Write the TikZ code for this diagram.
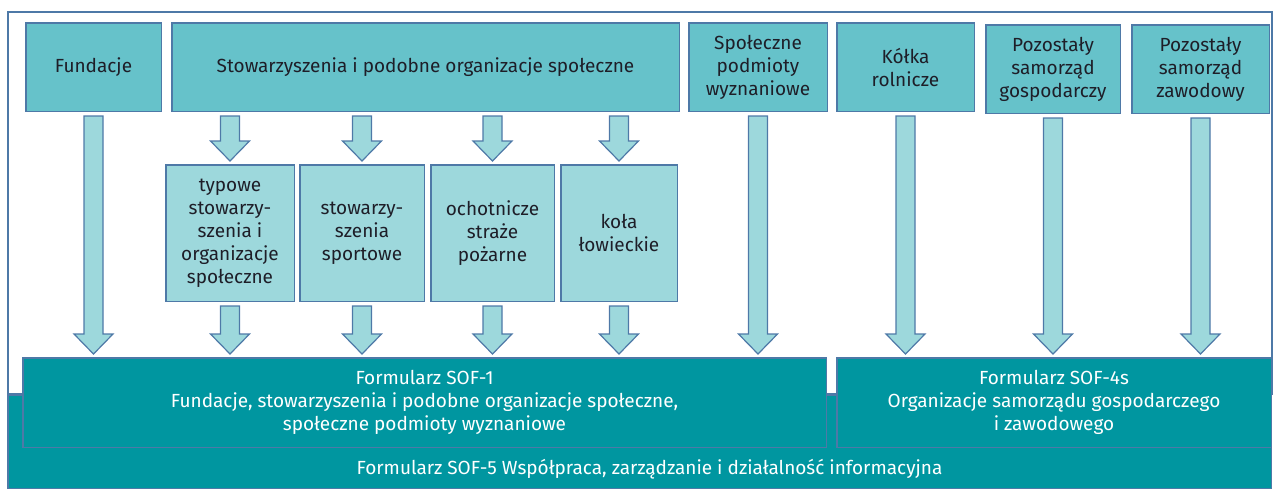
\documentclass[tikz,border=0pt]{standalone}
\usepackage{fontspec}
\setmainfont{Fira Sans}
\usetikzlibrary{calc, positioning}
\definecolor{boxtop}{RGB}{102,194,202}
\definecolor{boxsub}{RGB}{157,216,220}
\definecolor{rim}{RGB}{78,121,167}
\definecolor{softeal}{RGB}{0,150,160}
\definecolor{ink}{RGB}{30,30,40}

% hollow block arrow: #1 top end, #2 node it points at (only its y is used)
\newcommand{\blockarrow}[2]{%
  \path[barrow] let \p1=#1, \p2=#2 in
    ({\x1-9.5pt},{\y1-4pt}) -- ({\x1-9.5pt},{\y2+23pt}) -- ({\x1-19.5pt},{\y2+23pt})
    -- ({\x1},{\y2+3pt}) -- ({\x1+19.5pt},{\y2+23pt}) -- ({\x1+9.5pt},{\y2+23pt})
    -- ({\x1+9.5pt},{\y1-4pt}) -- cycle;}

\begin{document}
\begin{tikzpicture}[x=1pt,y=-1pt,node distance=9pt,
    font=\fontsize{19}{23}\selectfont,
    topbox/.style={draw=rim,fill=boxtop,line width=1.5pt,text=ink,align=center,minimum height=88.5pt,inner sep=2pt},
    subbox/.style={draw=rim,fill=boxsub,line width=1.5pt,text=ink,align=center,minimum height=136.5pt,inner sep=2pt},
    formbox/.style={draw=rim,fill=softeal,line width=1.5pt,text=white,align=center,minimum height=89.5pt},
    barrow/.style={draw=rim,fill=boxsub,line width=1.2pt,line join=miter}]
  \useasboundingbox (0,0) rectangle (1274,491);
  \draw[rim,line width=1.5pt] (8,12) rectangle (1272,394);
  \node[formbox,minimum width=1263.5pt,minimum height=93.5pt,anchor=north west] (sof5) at (7,394) {};
  \node[text=white] (sof5txt) at ($(sof5.south)+(10,-20)$) {Formularz SOF-5 Współpraca, zarządzanie i działalność informacyjna};

  \node[formbox,minimum width=803.5pt,anchor=north west] (sof1) at (22,357) {Formularz SOF-1\\Fundacje, stowarzyszenia i podobne organizacje społeczne,\\społeczne podmioty wyznaniowe};
  \node[formbox,minimum width=434.5pt] (sof4) [right=of sof1] {Formularz SOF-4s\\Organizacje samorządu gospodarczego\\i zawodowego};

  % top row
  \node[topbox,minimum width=135.5pt,anchor=north west] (fund) at (25,22) {Fundacje};
  \node[topbox,minimum width=507.5pt] (stow) [right=of fund] {Stowarzyszenia i podobne organizacje społeczne};
  \node[topbox,minimum width=138.5pt] (spm) [right=8pt of stow] {Społeczne\\podmioty\\wyznaniowe};
  \node[topbox,minimum width=137.5pt] (kolka) [right=8pt of spm] {Kółka\\rolnicze};
  \node[topbox,minimum width=134.5pt,yshift=-2pt] (gosp) [right=10pt of kolka] {Pozostały\\samorząd\\gospodarczy};
  \node[topbox,minimum width=137.5pt] (zawod) [right=10pt of gosp] {Pozostały\\samorząd\\zawodowy};

  % kinds of associations
  \node[subbox,minimum width=128.5pt,anchor=north west] (typ) at (165,164) {typowe\\stowarzy-\\szenia i\\organizacje\\społeczne};
  \node[subbox,minimum width=124.5pt] (sport) [right=4pt of typ] {stowarzy-\\szenia\\sportowe};
  \node[subbox,minimum width=123.5pt] (ocho) [right=5pt of sport] {ochotnicze\\straże\\pożarne};
  \node[subbox,minimum width=116.5pt] (kola) [right=5pt of ocho] {koła\\łowieckie};

  \blockarrow{(fund.south)}{(sof1.north)}
  \blockarrow{(spm.south)}{(sof1.north)}
  \blockarrow{(kolka.south)}{(sof4.north)}
  \blockarrow{(gosp.south)}{(sof4.north)}
  \blockarrow{(zawod.south)}{(sof4.north)}
  \foreach \sub in {typ,sport,ocho,kola}{
    \blockarrow{(stow.south -| \sub.north)}{(\sub.north)}
    \blockarrow{(\sub.south)}{(sof1.north)}
  }
\end{tikzpicture}
\end{document}
